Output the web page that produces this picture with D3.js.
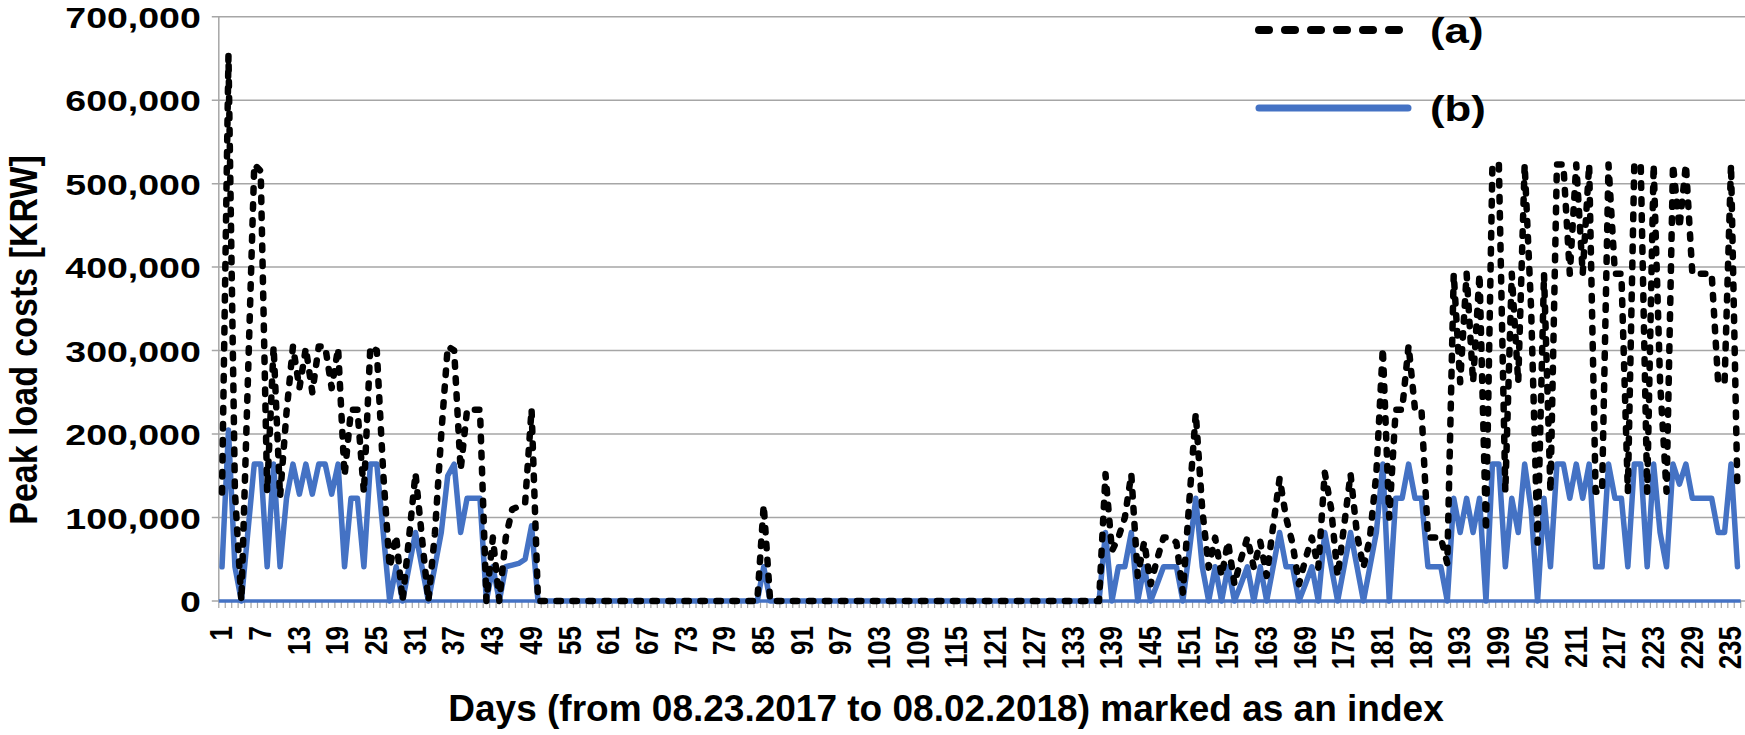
<!DOCTYPE html>
<html><head><meta charset="utf-8">
<script src="https://cdn.jsdelivr.net/npm/d3@7"></script>
<style>
html,body{margin:0;padding:0;background:#fff;}
svg{display:block;}
text{font-family:"Liberation Sans",Arial,sans-serif;font-weight:bold;fill:#000;}
</style></head><body>
<svg id="chart" width="1745" height="735"></svg>
<script>
// ---- data ----
const days = d3.range(1, 237);
const xTickLabels = [1,7,13,19,25,31,37,43,49,55,61,67,73,79,85,91,97,103,109,115,121,127,133,139,145,151,157,163,169,175,181,187,193,199,205,211,217,223,229,235];
const yTicks = [0,100000,200000,300000,400000,500000,600000,700000];
const seriesNames = ["(a)","(b)"];
// (a) black dashed, KRW per day index 1..236
const costA = [
130000,654000,131000,0,262000,523000,515000,131000,305000,125000,
226000,305000,255000,303000,250000,305000,305000,255000,303000,150000,
229000,229000,130000,305000,300000,153000,40000,78000,0,76000,
153000,76000,0,80000,200000,305000,300000,157000,229000,229000,
229000,0,76000,0,76000,110000,113000,117000,230000,0,
0,0,0,0,0,0,0,0,0,0,
0,0,0,0,0,0,0,0,0,0,
0,0,0,0,0,0,0,0,0,0,
0,0,0,0,115000,0,0,0,0,0,
0,0,0,0,0,0,0,0,0,0,
0,0,0,0,0,0,0,0,0,0,
0,0,0,0,0,0,0,0,0,0,
0,0,0,0,0,0,0,0,0,0,
0,0,0,0,0,0,0,152000,60000,76000,
100000,152000,30000,71000,20000,50000,76000,76000,70000,10000,
120000,225000,110000,40000,76000,30000,71000,20000,50000,76000,
40000,71000,30000,90000,147000,100000,69000,20000,50000,76000,
40000,154000,110000,30000,90000,152000,80000,40000,76000,153000,
303000,100000,229000,229000,306000,229000,229000,76000,76000,76000,
45000,392000,262000,392000,262000,392000,84000,523000,523000,131000,
392000,262000,523000,350000,70000,392000,131000,523000,523000,392000,
523000,392000,523000,131000,131000,523000,392000,392000,131000,523000,
523000,131000,523000,262000,131000,523000,447000,523000,392000,392000,
392000,392000,262000,262000,523000,131000
];
// (b) blue solid
const costB = [
41000,205000,41000,0,82000,164000,164000,41000,164000,41000,
123000,164000,128000,164000,128000,164000,164000,128000,164000,41000,
123000,123000,41000,164000,164000,82000,0,41000,0,41000,
82000,41000,0,41000,82000,150000,164000,82000,123000,123000,
123000,0,41000,0,41000,43000,45000,50000,90000,0,
0,0,0,0,0,0,0,0,0,0,
0,0,0,0,0,0,0,0,0,0,
0,0,0,0,0,0,0,0,0,0,
0,0,0,0,41000,0,0,0,0,0,
0,0,0,0,0,0,0,0,0,0,
0,0,0,0,0,0,0,0,0,0,
0,0,0,0,0,0,0,0,0,0,
0,0,0,0,0,0,0,0,0,0,
0,0,0,0,0,0,0,82000,0,41000,
41000,82000,0,41000,0,20000,41000,41000,41000,0,
60000,123000,41000,0,41000,0,41000,0,20000,41000,
0,41000,0,41000,82000,41000,41000,0,20000,41000,
0,82000,41000,0,41000,82000,41000,0,41000,82000,
164000,0,123000,123000,164000,123000,123000,41000,41000,41000,
0,123000,82000,123000,82000,123000,0,164000,164000,41000,
123000,82000,164000,110000,0,123000,41000,164000,164000,123000,
164000,123000,164000,41000,41000,164000,123000,123000,41000,164000,
164000,41000,164000,82000,41000,164000,140000,164000,123000,123000,
123000,123000,82000,82000,164000,41000
];

// ---- layout ----
const W = 1745, H = 735;
const plot = {left: 218.8, right: 1740.7, top: 16.7, bottom: 601};
const BLUE = "#4472C4", GRID = "#A6A6A6";
const FONT = '"Liberation Sans",Arial,sans-serif';
const SX = 1.25; // horizontal widening of glyphs seen in the reference

const svg = d3.select("#chart");
const x = d3.scaleBand().domain(days).range([plot.left, plot.right]).padding(0);
const y = d3.scaleLinear().domain([0, 700000]).range([plot.bottom, plot.top]);
const cx = d => x(d) + x.bandwidth() / 2;

// gridlines
svg.append("g").selectAll("line").data(yTicks).join("line")
  .attr("x1", plot.left - 7).attr("x2", W)
  .attr("y1", d => y(d)).attr("y2", d => y(d))
  .attr("stroke", GRID).attr("stroke-width", 1.5);

// y axis line
svg.append("line").attr("x1", plot.left).attr("x2", plot.left)
  .attr("y1", y(700000)).attr("y2", y(0)).attr("stroke", GRID).attr("stroke-width", 1.5);

// y axis labels
const yAxis = d3.axisLeft(y).tickValues(yTicks).tickFormat(d3.format(",")).tickSize(0).tickPadding(0);
const gy = svg.append("g").attr("transform", `translate(${plot.left},0)`).call(yAxis);
gy.select(".domain").remove();
gy.selectAll("text").attr("font-size", 30).attr("font-family", FONT)
  .attr("font-weight", "bold").attr("fill", "#000").attr("dy", "0.36em")
  .attr("x", 0).attr("text-anchor", "end")
  .attr("transform", `translate(-18,0) scale(${SX},1)`);

// x tick marks at category boundaries
const bounds = days.map(d => x(d)).concat([plot.right]);
svg.append("g").selectAll("line").data(bounds).join("line")
  .attr("x1", d => d).attr("x2", d => d).attr("y1", plot.bottom).attr("y2", plot.bottom + 7)
  .attr("stroke", GRID).attr("stroke-width", 1.2);

// x axis labels
const xAxis = d3.axisBottom(x).tickValues(xTickLabels).tickSize(0).tickPadding(0);
const gx = svg.append("g").attr("transform", `translate(0,${plot.bottom})`).call(xAxis);
gx.select(".domain").remove();
gx.selectAll("text")
  .attr("font-size", 26).attr("font-family", FONT)
  .attr("font-weight", "bold").attr("fill", "#000")
  .attr("text-anchor", "end").attr("dy", "0.33em").attr("y", 0).attr("x", 0)
  .attr("transform", `translate(0,25) scale(1.2,1) rotate(-90)`);

// baseline (blue)
svg.append("line").attr("x1", plot.left).attr("x2", plot.right)
  .attr("y1", y(0)).attr("y2", y(0)).attr("stroke", BLUE).attr("stroke-width", 3.5);

const line = d3.line().x((v, i) => cx(days[i])).y(v => y(v));

// series (b)
svg.append("path").datum(costB).attr("d", line)
  .attr("fill", "none").attr("stroke", BLUE).attr("stroke-width", 5.5)
  .attr("stroke-linejoin", "round").attr("stroke-linecap", "round");
// series (a)
svg.append("path").datum(costA).attr("d", line)
  .attr("fill", "none").attr("stroke", "#000").attr("stroke-width", 6.5)
  .attr("stroke-dasharray", "4.5,11.5").attr("stroke-linejoin", "round").attr("stroke-linecap", "round");

// legend
const leg = svg.append("g");
leg.append("line").attr("x1", 1259).attr("x2", 1408).attr("y1", 30).attr("y2", 30)
  .attr("stroke", "#000").attr("stroke-width", 8).attr("stroke-dasharray", "10,16").attr("stroke-linecap", "round");
leg.append("line").attr("x1", 1259).attr("x2", 1408).attr("y1", 108).attr("y2", 108)
  .attr("stroke", BLUE).attr("stroke-width", 7).attr("stroke-linecap", "round");
leg.selectAll("text").data(seriesNames).join("text")
  .attr("x", 0).attr("y", 0)
  .attr("transform", (d, i) => `translate(1430,${i === 0 ? 30 : 108}) scale(${SX},1)`)
  .attr("dy", "0.36em").attr("font-size", 35).text(d => d);

// axis titles
svg.append("text").attr("x", 946).attr("y", 721).attr("text-anchor", "middle")
  .attr("font-size", 37).text("Days (from 08.23.2017 to 08.02.2018) marked as an index");
svg.append("text").attr("transform", `translate(37,340) scale(1.15,1) rotate(-90)`).attr("text-anchor", "middle")
  .attr("font-size", 34).text("Peak load costs [KRW]");
</script>
</body></html>
